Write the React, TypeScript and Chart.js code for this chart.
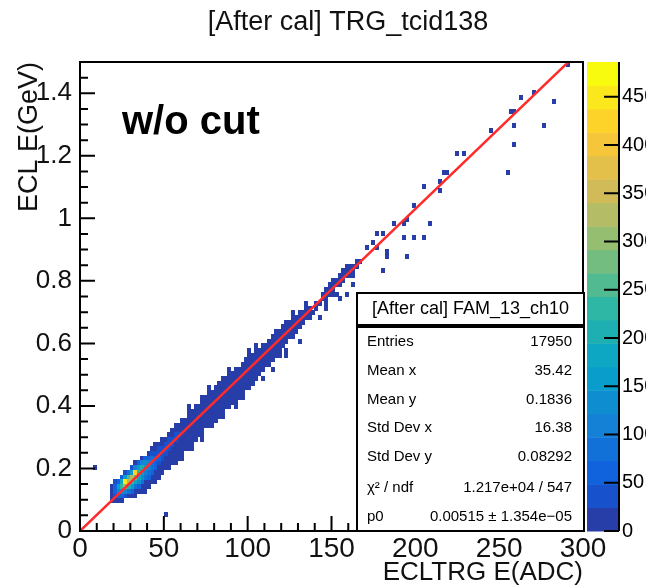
import React, { useEffect, useRef } from "react";
import { Chart, registerables } from "chart.js";

Chart.register(...registerables);

const FONT = "'Liberation Sans', Arial, Helvetica, sans-serif";

const TITLE = "[After cal] TRG_tcid138";
const X_TITLE = "ECLTRG E(ADC)";
const Y_TITLE = "ECL E(GeV)";
const CUT_LABEL = "w/o cut";

const X_MIN = 0;
const X_MAX = 300;
const Y_MIN = 0;
const Y_MAX = 1.5;
const X_TICKS = [0, 50, 100, 150, 200, 250, 300];
const Y_TICKS = [0, 0.2, 0.4, 0.6, 0.8, 1, 1.2, 1.4];
const X_MINOR_STEP = 10;
const Y_MINOR_STEP = 0.05;

// 2D histogram binning
const BIN_X = 2;
const BIN_Y = 0.015;

// Dense band: per x-bin (left edge), filled y range [lo, hi]
const BAND_X = [18, 20, 22, 24, 26, 28, 30, 32, 34, 36, 38, 40, 42, 44, 46, 48, 50, 52, 54, 56, 58, 60, 62, 64, 66, 68, 70, 72, 74, 76, 78, 80, 82, 84, 86, 88, 90, 92, 94, 96, 98, 100, 102, 104, 106, 108, 110, 112, 114, 116, 118, 120, 122, 124, 126, 128, 130, 132, 134, 136, 140, 144, 146, 148, 150, 152, 154, 156, 158, 160, 162, 164];
const BAND_LO = [0.100, 0.092, 0.098, 0.100, 0.106, 0.108, 0.115, 0.118, 0.128, 0.122, 0.138, 0.145, 0.160, 0.163, 0.178, 0.182, 0.196, 0.202, 0.218, 0.220, 0.238, 0.242, 0.258, 0.265, 0.280, 0.288, 0.306, 0.312, 0.332, 0.336, 0.352, 0.356, 0.372, 0.374, 0.390, 0.392, 0.408, 0.410, 0.428, 0.432, 0.452, 0.455, 0.478, 0.480, 0.500, 0.515, 0.530, 0.545, 0.552, 0.568, 0.575, 0.592, 0.600, 0.618, 0.625, 0.642, 0.652, 0.668, 0.676, 0.690, 0.708, 0.738, 0.745, 0.758, 0.770, 0.780, 0.792, 0.802, 0.815, 0.822, 0.835, 0.842];
const BAND_HI = [0.135, 0.150, 0.162, 0.168, 0.185, 0.190, 0.200, 0.214, 0.220, 0.234, 0.238, 0.252, 0.260, 0.272, 0.278, 0.292, 0.296, 0.312, 0.318, 0.334, 0.338, 0.355, 0.358, 0.375, 0.382, 0.398, 0.402, 0.420, 0.425, 0.440, 0.445, 0.460, 0.465, 0.480, 0.485, 0.500, 0.505, 0.520, 0.522, 0.538, 0.542, 0.558, 0.560, 0.578, 0.580, 0.596, 0.598, 0.606, 0.618, 0.625, 0.640, 0.645, 0.662, 0.666, 0.682, 0.688, 0.702, 0.703, 0.714, 0.718, 0.728, 0.762, 0.772, 0.786, 0.798, 0.802, 0.818, 0.832, 0.842, 0.848, 0.852, 0.858];
const BAND_COUNT = 8;

// Brighter cells in the dense core (bin centres)
const HOT_X = [
  21, 21, 21, 21, 21,
  23, 23, 23, 23,
  25, 25, 25, 25, 25,
  27, 27, 27, 27, 27, 27,
  29, 29, 29, 29, 29,
  31, 31, 31, 31, 31, 31,
  33, 33, 33, 33, 33,
  35, 35, 35, 35, 35, 35,
  37, 37, 37, 37, 37,
  39, 39, 39, 39, 39,
  41, 41, 41, 41, 41,
  43, 43, 43, 43, 43,
  45, 45, 45, 45,
  47, 47, 47, 47,
  49, 49, 49,
  51, 51, 51,
  53, 53, 53,
  55, 55,
  57, 57,
  59,
];
const HOT_Y = [
  0.0975, 0.1125, 0.1275, 0.1425, 0.1575,
  0.1125, 0.1275, 0.1425, 0.1575,
  0.1125, 0.1275, 0.1425, 0.1575, 0.1725,
  0.1125, 0.1275, 0.1425, 0.1575, 0.1725, 0.1875,
  0.1275, 0.1425, 0.1575, 0.1725, 0.1875,
  0.1275, 0.1425, 0.1575, 0.1725, 0.1875, 0.2025,
  0.1425, 0.1575, 0.1725, 0.1875, 0.2025,
  0.1425, 0.1575, 0.1725, 0.1875, 0.2025, 0.2175,
  0.1575, 0.1725, 0.1875, 0.2025, 0.2175,
  0.1725, 0.1875, 0.2025, 0.2175, 0.2325,
  0.1725, 0.1875, 0.2025, 0.2175, 0.2325,
  0.1875, 0.2025, 0.2175, 0.2325, 0.2475,
  0.2025, 0.2175, 0.2325, 0.2475,
  0.2175, 0.2325, 0.2475, 0.2625,
  0.2325, 0.2475, 0.2625,
  0.2475, 0.2625, 0.2775,
  0.2625, 0.2775, 0.2925,
  0.2775, 0.2925,
  0.2925, 0.3075,
  0.3075,
];
const HOT_N = [
  20, 40, 60, 50, 25,
  60, 120, 150, 70,
  50, 140, 230, 180, 60,
  40, 120, 300, 450, 160, 40,
  90, 200, 340, 260, 80,
  60, 150, 220, 330, 170, 40,
  90, 180, 280, 420, 120,
  60, 130, 190, 230, 150, 50,
  80, 140, 170, 200, 110,
  90, 120, 150, 130, 60,
  50, 90, 110, 120, 70,
  60, 80, 90, 75, 40,
  50, 70, 60, 40,
  45, 55, 45, 30,
  40, 45, 35,
  35, 40, 30,
  30, 35, 28,
  30, 30,
  28, 26,
  26,
];

// Isolated cells
const SPARSE_X = [9, 51, 38, 40, 45, 60, 64, 66, 72, 76, 78, 84, 88, 92, 97, 100, 101.4, 104, 105, 108.5, 105.5, 106, 112, 114.5, 116, 118, 101.4, 113.3, 122.2, 122.2, 108.5, 119.3, 125.2, 126, 131.2, 124, 131.2, 134, 136, 138, 142, 142, 146, 147.3, 144.3, 150, 152, 155, 158, 150.3, 155, 162.8, 156.8, 159.8, 162.8, 167, 171, 174.7, 176, 177, 180, 180.7, 182, 183, 186.6, 192.6, 195.6, 192.6, 198.6, 204.5, 209.3, 195.6, 198.6, 204.5, 214, 215, 216.5, 218.5, 224.8, 229.6, 245, 254.6, 257, 259.4, 259.4, 259.4, 263.6, 270, 277.3, 282.6, 291];
const SPARSE_Y = [0.20, 0.045, 0.125, 0.140, 0.165, 0.228, 0.390, 0.262, 0.298, 0.452, 0.330, 0.360, 0.512, 0.395, 0.420, 0.570, 0.476, 0.590, 0.483, 0.489, 0.515, 0.508, 0.530, 0.521, 0.640, 0.560, 0.553, 0.556, 0.556, 0.572, 0.585, 0.633, 0.620, 0.695, 0.611, 0.659, 0.700, 0.730, 0.681, 0.700, 0.681, 0.720, 0.730, 0.713, 0.764, 0.755, 0.760, 0.748, 0.764, 0.803, 0.793, 0.793, 0.835, 0.851, 0.819, 0.868, 0.908, 0.921, 0.947, 0.908, 0.953, 0.835, 0.873, 0.899, 0.985, 0.985, 0.995, 0.940, 0.940, 0.940, 0.985, 0.883, 1.040, 1.100, 1.090, 1.119, 1.148, 1.148, 1.209, 1.209, 1.282, 1.145, 1.337, 1.340, 1.298, 1.238, 1.388, 1.404, 1.298, 1.375, 1.497];
const SPARSE_COUNT = 2;

// Fit: pol1 through origin
const FIT_P0 = 0.00515;
const FIT_X = [0, 300];

// Colour axis
const Z_MAX = 486;
const Z_LEVELS = 20;
const Z_TICKS = [0, 50, 100, 150, 200, 250, 300, 350, 400, 450];

// Stats box
const STATS_TITLE = "[After cal] FAM_13_ch10";
const STAT_LABELS = ["Entries", "Mean x", "Mean y", "Std Dev x", "Std Dev y", "\u03c7\u00b2 / ndf", "p0"];
const STAT_VALUES = ["17950", "35.42", "0.1836", "16.38", "0.08292", "1.217e+04 / 547", "0.00515 \u00b1 1.354e\u221205"];

// ROOT kBird palette
const PAL_STOPS = [0, 0.125, 0.25, 0.375, 0.5, 0.625, 0.75, 0.875, 1];
const PAL_R = [0.2082, 0.0592, 0.078, 0.0232, 0.1802, 0.5301, 0.8186, 0.9956, 0.9764];
const PAL_G = [0.1664, 0.3599, 0.5041, 0.6419, 0.7178, 0.7492, 0.7328, 0.7862, 0.9832];
const PAL_B = [0.5293, 0.8684, 0.8385, 0.7914, 0.6425, 0.4662, 0.3499, 0.1968, 0.0539];

function paletteAt(f: number): string {
  let k = 0;
  while (k < PAL_STOPS.length - 2 && f > PAL_STOPS[k + 1]) k++;
  const t = (f - PAL_STOPS[k]) / (PAL_STOPS[k + 1] - PAL_STOPS[k]);
  const c = (a: number[]) => Math.round(255 * (a[k] + (a[k + 1] - a[k]) * t));
  return `rgb(${c(PAL_R)},${c(PAL_G)},${c(PAL_B)})`;
}
const LEVEL_COLORS: string[] = [];
for (let i = 0; i < Z_LEVELS; i++) {
  const idx = Math.floor(((i + 0.99) * 255) / Z_LEVELS);
  LEVEL_COLORS.push(paletteAt(Math.min(1, idx / 254)));
}
function colorFor(n: number): string {
  const lvl = Math.min(Z_LEVELS - 1, Math.floor(n / (Z_MAX / Z_LEVELS)));
  return LEVEL_COLORS[lvl];
}

type Cell = { x: number; y: number; n: number };
function buildCells(): Cell[] {
  const m = new Map<string, { ix: number; iy: number; n: number }>();
  const setCell = (ix: number, iy: number, n: number) => {
    m.set(ix + ":" + iy, { ix, iy, n });
  };
  BAND_X.forEach((x, i) => {
    const ix = Math.floor(x / BIN_X + 1e-6);
    const a = Math.floor(BAND_LO[i] / BIN_Y + 1e-6);
    const b = Math.floor(BAND_HI[i] / BIN_Y + 1e-6);
    for (let iy = a; iy <= b; iy++) setCell(ix, iy, BAND_COUNT);
  });
  SPARSE_X.forEach((x, i) => {
    const ix = Math.floor(x / BIN_X);
    const iy = Math.floor(SPARSE_Y[i] / BIN_Y);
    if (!m.has(ix + ":" + iy)) setCell(ix, iy, SPARSE_COUNT);
  });
  HOT_X.forEach((x, i) => {
    setCell(Math.floor(x / BIN_X), Math.floor(HOT_Y[i] / BIN_Y), HOT_N[i]);
  });
  const arr = Array.from(m.values()).map((c) => ({ x: (c.ix + 0.5) * BIN_X, y: (c.iy + 0.5) * BIN_Y, n: c.n }));
  arr.sort((a, b) => a.n - b.n);
  return arr;
}

const imgCache = new Map<string, HTMLCanvasElement>();
function cellImage(color: string, w: number, h: number): HTMLCanvasElement {
  const key = color + "|" + w + "|" + h;
  let c = imgCache.get(key);
  if (!c) {
    c = document.createElement("canvas");
    c.width = w;
    c.height = h;
    const g = c.getContext("2d")!;
    g.fillStyle = color;
    g.fillRect(0, 0, w, h);
    imgCache.set(key, c);
  }
  return c;
}

const decorPlugin = {
  id: "rootDecor",
  afterDatasetsDraw(chart: any) {
    const { ctx, chartArea } = chart;
    const { left, right, top, bottom } = chartArea;
    const xs = chart.scales.x;
    const ys = chart.scales.y;
    ctx.save();

    // title
    ctx.fillStyle = "#111";
    ctx.font = `27px ${FONT}`;
    ctx.textAlign = "center";
    ctx.textBaseline = "middle";
    ctx.fillText(TITLE, 348, 23);

    ctx.strokeStyle = "#000";
    ctx.lineWidth = 2;
    // minor + major ticks inside frame
    ctx.beginPath();
    for (let v = X_MIN; v <= X_MAX + 1e-9; v += X_MINOR_STEP) {
      const px = xs.getPixelForValue(v);
      const major = X_TICKS.some((t) => Math.abs(t - v) < 1e-6);
      ctx.moveTo(px, bottom);
      ctx.lineTo(px, bottom - (major ? 15 : 8));
    }
    for (let v = Y_MIN; v <= Y_MAX + 1e-9; v += Y_MINOR_STEP) {
      const py = ys.getPixelForValue(v);
      const major = Y_TICKS.some((t) => Math.abs(t - v) < 1e-6);
      ctx.moveTo(left, py);
      ctx.lineTo(left + (major ? 15 : 8), py);
    }
    ctx.stroke();
    // frame
    ctx.strokeRect(left, top, right - left, bottom - top);

    // w/o cut
    ctx.fillStyle = "#000";
    ctx.font = `bold 40px ${FONT}`;
    ctx.textAlign = "left";
    ctx.textBaseline = "alphabetic";
    ctx.fillText(CUT_LABEL, 122, 134);

    // stats boxes
    const bx0 = 357, bx1 = right + 1;
    ctx.fillStyle = "#fff";
    ctx.fillRect(bx0, 293, bx1 - bx0, 32);
    ctx.strokeRect(bx0, 293, bx1 - bx0, 32);
    ctx.fillRect(bx0, 327, bx1 - bx0, bottom - 327);
    ctx.strokeRect(bx0, 327, bx1 - bx0, bottom - 327);
    ctx.fillStyle = "#000";
    ctx.font = `18px ${FONT}`;
    ctx.textAlign = "center";
    ctx.textBaseline = "middle";
    ctx.fillText(STATS_TITLE, (bx0 + bx1) / 2, 309);
    const rowY = [342, 371, 400, 428, 457, 488, 517];
    ctx.font = `15px ${FONT}`;
    STAT_LABELS.forEach((lab, i) => {
      ctx.textAlign = "left";
      ctx.fillText(lab, 367, rowY[i]);
      ctx.textAlign = "right";
      ctx.fillText(STAT_VALUES[i], 572, rowY[i]);
    });

    // colour bar
    const cx0 = 587, cx1 = 619;
    const zPix = (v: number) => bottom - (v / Z_MAX) * (bottom - top);
    const dz = Z_MAX / Z_LEVELS;
    for (let i = 0; i < Z_LEVELS; i++) {
      const y0 = zPix(i * dz);
      const y1 = zPix((i + 1) * dz);
      ctx.fillStyle = LEVEL_COLORS[i];
      ctx.fillRect(cx0, y1, cx1 - cx0, y0 - y1 + 0.5);
    }
    ctx.strokeStyle = "#000";
    ctx.lineWidth = 2;
    ctx.beginPath();
    ctx.moveTo(cx1, top);
    ctx.lineTo(cx1, bottom);
    Z_TICKS.forEach((z) => {
      const py = zPix(z);
      ctx.moveTo(cx1, py);
      ctx.lineTo(cx1 - 15, py);
    });
    ctx.stroke();
    ctx.fillStyle = "#000";
    ctx.font = `20px ${FONT}`;
    ctx.textAlign = "left";
    ctx.textBaseline = "middle";
    Z_TICKS.forEach((z) => {
      ctx.fillText(String(z), cx1 + 3, zPix(z));
    });
    ctx.restore();
  },
};

export default function App() {
  const ref = useRef<HTMLCanvasElement | null>(null);
  useEffect(() => {
    if (!ref.current) return;
    const cells = buildCells();
    const chart = new Chart(ref.current, {
      type: "scatter",
      data: {
        datasets: [
          {
            label: "fit",
            data: FIT_X.map((x) => ({ x, y: FIT_P0 * x })),
            showLine: true,
            borderColor: "#ff2a2a",
            borderWidth: 2.5,
            pointRadius: 0,
          } as any,
          {
            label: "hist",
            data: cells,
            pointRadius: 2,
            pointStyle: (c: any) => {
              if (!c.raw) return "rect";
              const xs = c.chart.scales.x;
              const ys = c.chart.scales.y;
              const w = Math.ceil(Math.abs(xs.getPixelForValue(BIN_X) - xs.getPixelForValue(0)));
              const h = Math.ceil(Math.abs(ys.getPixelForValue(0) - ys.getPixelForValue(BIN_Y)));
              return cellImage(colorFor(c.raw.n), w, h);
            },
          } as any,
        ],
      },
      options: {
        animation: false,
        responsive: false,
        devicePixelRatio: 1,
        layout: { padding: { left: 0, right: 63, top: 62, bottom: 0 } },
        plugins: {
          legend: { display: false },
          tooltip: { enabled: false },
          title: { display: false },
        },
        scales: {
          x: {
            type: "linear",
            min: X_MIN,
            max: X_MAX,
            afterBuildTicks: (s: any) => {
              s.ticks = X_TICKS.map((v) => ({ value: v }));
            },
            afterFit: (s: any) => {
              s.height = 55;
            },
            grid: { display: false, drawTicks: false },
            border: { display: false },
            ticks: {
              color: "#111",
              font: { family: FONT, size: 28 },
              padding: 1,
              maxRotation: 0,
              autoSkip: false,
              callback: (v: any) => String(v),
            },
            title: {
              display: true,
              text: X_TITLE,
              align: "end",
              color: "#111",
              font: { family: FONT, size: 26, lineHeight: 1 },
              padding: { top: 0, bottom: 0 },
            },
          },
          y: {
            type: "linear",
            min: Y_MIN,
            max: Y_MAX,
            afterBuildTicks: (s: any) => {
              s.ticks = Y_TICKS.map((v) => ({ value: v }));
            },
            afterFit: (s: any) => {
              s.width = 80;
            },
            grid: { display: false, drawTicks: false },
            border: { display: false },
            ticks: {
              color: "#111",
              font: { family: FONT, size: 26 },
              padding: 8,
              autoSkip: false,
              callback: (v: any) => String(Math.round(Number(v) * 10) / 10),
            },
            title: {
              display: true,
              text: Y_TITLE,
              align: "end",
              color: "#111",
              font: { family: FONT, size: 27, lineHeight: 1 },
              padding: { top: 16, bottom: 0 },
            },
          },
        },
      } as any,
      plugins: [decorPlugin],
    });
    return () => chart.destroy();
  }, []);
  return (
    <div style={{ position: "fixed", left: 0, top: 0, width: 646, height: 586, background: "#fff" }}>
      <canvas ref={ref} width={646} height={586} style={{ display: "block", width: 646, height: 586 }} />
    </div>
  );
}
